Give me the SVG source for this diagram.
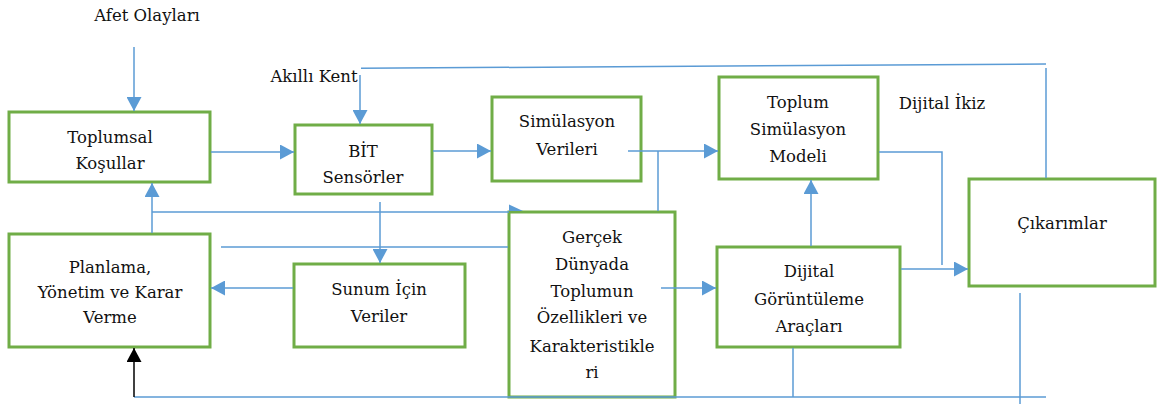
<svg xmlns="http://www.w3.org/2000/svg" width="1157" height="404" viewBox="0 0 1157 404">
<style>
.box{fill:#fff;stroke:#70AD47;stroke-width:3}
.t{font-family:'DejaVu Serif',serif;font-size:16.5px;fill:#111;text-anchor:middle}
.c{fill:none;stroke:#5B9BD5;stroke-width:1.5}
.k{fill:none;stroke:#000;stroke-width:1.5}
</style>
<defs>
<marker id="a" markerUnits="userSpaceOnUse" markerWidth="14" markerHeight="15" refX="14" refY="7.5" orient="auto"><path d="M0,0 L14,7.5 L0,15 z" fill="#5B9BD5"/></marker>
<marker id="b" markerUnits="userSpaceOnUse" markerWidth="14" markerHeight="15" refX="14" refY="7.5" orient="auto"><path d="M0,0 L14,7.5 L0,15 z" fill="#000"/></marker>
</defs>
<g id="labels">
<text class="t" x="147" y="21">Afet Olayları</text>
<text class="t" x="314" y="82">Akıllı Kent</text>
<text class="t" x="942" y="109">Dijital İkiz</text>
</g>
<g id="n-toplumsal"><rect class="box" x="9" y="112" width="201" height="70"/><text class="t" x="110" y="143">Toplumsal</text><text class="t" x="110" y="169">Koşullar</text></g>
<g id="n-bit"><rect class="box" x="295" y="125" width="137" height="69"/><text class="t" x="363" y="157">BİT</text><text class="t" x="363" y="183">Sensörler</text></g>
<g id="n-sim"><rect class="box" x="492" y="97" width="149" height="84"/><text class="t" x="567" y="127">Simülasyon</text><text class="t" x="567" y="155">Verileri</text></g>
<g id="n-model"><rect class="box" x="719" y="77" width="159" height="102"/><text class="t" x="798" y="108">Toplum</text><text class="t" x="798" y="135">Simülasyon</text><text class="t" x="798" y="162">Modeli</text></g>
<g id="n-cikarim"><rect class="box" x="969" y="179" width="186" height="107"/><text class="t" x="1062" y="229">Çıkarımlar</text></g>
<g id="n-planlama"><rect class="box" x="9" y="234" width="201" height="113"/><text class="t" x="110" y="273">Planlama,</text><text class="t" x="110" y="298">Yönetim ve Karar</text><text class="t" x="110" y="323">Verme</text></g>
<g id="n-sunum"><rect class="box" x="294" y="264" width="171" height="83"/><text class="t" x="379" y="295">Sunum İçin</text><text class="t" x="379" y="322">Veriler</text></g>
<g id="n-gercek"><rect class="box" x="509" y="212" width="166" height="185"/><text class="t" x="592" y="243">Gerçek</text><text class="t" x="592" y="270">Dünyada</text><text class="t" x="592" y="297">Toplumun</text><text class="t" x="592" y="323">Özellikleri ve</text><text class="t" x="592" y="352">Karakteristikle</text><text class="t" x="592" y="378">ri</text></g>
<g id="n-dijital"><rect class="box" x="717" y="247" width="183" height="100"/><text class="t" x="809" y="277">Dijital</text><text class="t" x="809" y="305">Görüntüleme</text><text class="t" x="809" y="332">Araçları</text></g>
<g id="connectors">
<line class="c" x1="134" y1="47" x2="134" y2="111" marker-end="url(#a)"/>
<line class="c" x1="361" y1="68.3" x2="1046" y2="64"/>
<line class="c" x1="1046" y1="68" x2="1046" y2="178"/>
<line class="c" x1="360" y1="75" x2="360" y2="124" marker-end="url(#a)"/>
<line class="c" x1="211" y1="152" x2="294" y2="152" marker-end="url(#a)"/>
<line class="c" x1="433" y1="151" x2="491" y2="151" marker-end="url(#a)"/>
<line class="c" x1="628" y1="151" x2="718" y2="151" marker-end="url(#a)"/>
<line class="c" x1="658" y1="151" x2="658" y2="211"/>
<polyline class="c" points="879,152 942,152 942,265"/>
<line class="c" x1="901" y1="269" x2="968" y2="269" marker-end="url(#a)"/>
<line class="c" x1="811" y1="246" x2="811" y2="180" marker-end="url(#a)"/>
<line class="c" x1="152" y1="233" x2="152" y2="183" marker-end="url(#a)"/>
<line class="c" x1="152" y1="212" x2="509" y2="212"/>
<polygon points="509,204.5 523,211 509,211" fill="#5B9BD5"/>
<line class="c" x1="221" y1="247" x2="508" y2="247"/>
<line class="c" x1="380" y1="202" x2="380" y2="263" marker-end="url(#a)"/>
<line class="c" x1="293" y1="288" x2="211" y2="288" marker-end="url(#a)"/>
<line class="c" x1="661" y1="288" x2="716" y2="288" marker-end="url(#a)"/>
<line class="c" x1="793" y1="348" x2="793" y2="397"/>
<line class="c" x1="1020" y1="293" x2="1020" y2="404"/>
<line class="c" x1="134" y1="397" x2="1046" y2="397"/>
<line class="k" x1="134" y1="397" x2="134" y2="348" marker-end="url(#b)"/>
</g>
</svg>
